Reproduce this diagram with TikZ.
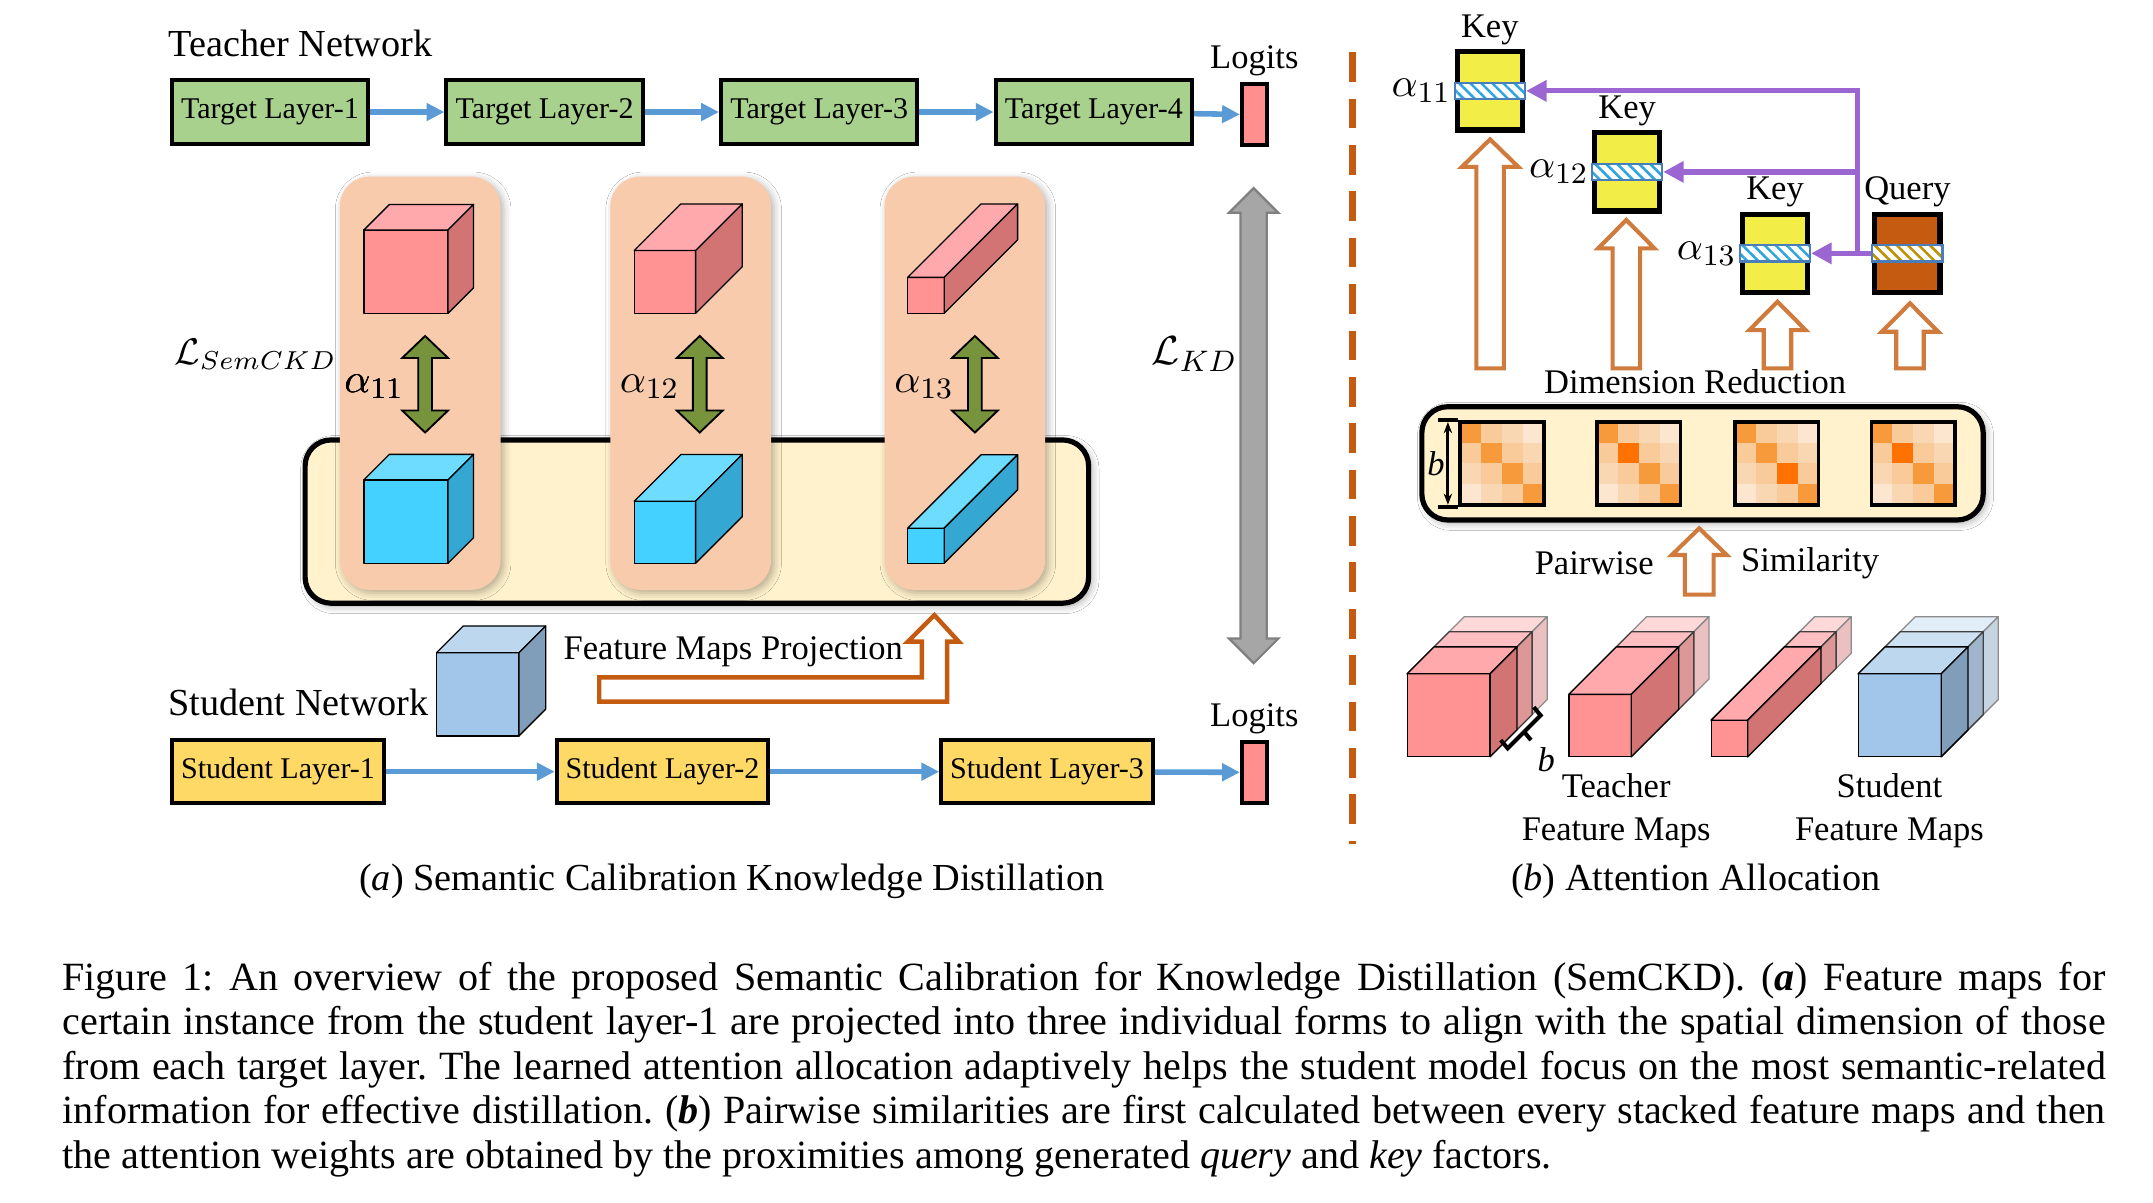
\documentclass[tikz,border=0pt]{standalone}
\usepackage{fontspec}
\setmainfont{Liberation Serif}
\usepackage{amsmath}
\usepackage{tikz}
\usetikzlibrary{positioning,arrows.meta,patterns.meta,shadows.blur}

\newcommand{\pxu}{0.37pt}
\newcommand{\capfont}{\fontsize{10.3}{12}\selectfont}
\newcommand{\labfont}{\fontsize{9.3}{11.4}\selectfont}
\newcommand{\boxfont}{\fontsize{8.1}{9.5}\selectfont}
\newcommand{\mathfont}{\fontsize{11}{13}\selectfont}

\definecolor{tgreen}{HTML}{A9D18E}
\definecolor{sgold}{HTML}{FFD966}
\definecolor{flowblue}{HTML}{5B9BD5}
\definecolor{logitpink}{HTML}{FF8F8F}
\definecolor{peach}{HTML}{F8CBAD}
\definecolor{softyellow}{HTML}{FFF2CC}
\definecolor{tcF}{HTML}{FF9393}
\definecolor{tcT}{HTML}{FFA9AD}
\definecolor{tcS}{HTML}{D37474}
\definecolor{scF}{HTML}{45D1FF}
\definecolor{scT}{HTML}{6EDCFF}
\definecolor{scS}{HTML}{35A7D3}
\definecolor{bcF}{HTML}{A2C6EA}
\definecolor{bcT}{HTML}{BDD7EE}
\definecolor{bcS}{HTML}{809DBA}
\definecolor{alphagreen}{HTML}{77933C}
\definecolor{kdgray}{HTML}{A6A6A6}
\definecolor{dimorange}{HTML}{C55A11}
\definecolor{hollowedge}{HTML}{D07A3C}
\definecolor{keyyellow}{HTML}{F2EE47}
\definecolor{attnpurple}{HTML}{9B66D2}
\definecolor{hatchblue}{HTML}{2FA5E0}
\definecolor{hatchgold}{HTML}{BF9000}
\definecolor{bandedge}{HTML}{4A7EBB}
\definecolor{heat0}{HTML}{FCE6CF}
\definecolor{heat1}{HTML}{FAD7B3}
\definecolor{heat2}{HTML}{F9CB9B}
\definecolor{heat4}{HTML}{F79A3B}
\definecolor{heat5}{HTML}{FF7100}

\tikzstyle{tlayer} = [draw=black, fill=tgreen, line width=1.1pt, rectangle,
    minimum width=143*\pxu, minimum height=46*\pxu, inner sep=0pt, font=\boxfont]
\tikzstyle{slayer} = [tlayer, fill=sgold, minimum width=154*\pxu]
\tikzstyle{logit} = [draw=black, fill=logitpink, line width=1.1pt,
    minimum width=18*\pxu, minimum height=44*\pxu, inner sep=0pt]
\tikzstyle{flow} = [draw=flowblue, line width=1.5pt, -{Triangle[length=4.8pt, width=4.6pt]}]
\tikzstyle{lab} = [font=\labfont, inner sep=1pt]
\tikzstyle{keybox} = [draw=black, fill=keyyellow, line width=1.4pt,
    minimum width=47.5*\pxu, minimum height=57*\pxu, inner sep=0pt]
\tikzstyle{querybox} = [keybox, fill=dimorange]
\tikzstyle{keyband} = [draw=bandedge, line width=0.6pt, preaction={fill=white},
    minimum width=51*\pxu, minimum height=12*\pxu, inner sep=0pt,
    pattern={Lines[angle=-45, distance=2.1pt, line width=0.7pt]}, pattern color=hatchblue]
\tikzstyle{queryband} = [keyband, pattern color=hatchgold]
\tikzstyle{attn} = [draw=attnpurple, line width=1.4pt, -{Triangle[length=5.5pt, width=5.5pt]}]
\tikzstyle{hollow} = [draw=hollowedge, line width=1.1pt, fill=white, line join=miter]
\tikzstyle{projarrow} = [draw=dimorange, line width=1.2pt, fill=white]
\tikzstyle{greenarr} = [draw=black, line width=0.5pt, fill=alphagreen]
\tikzstyle{grayarr} = [draw=black!50, line width=0.6pt, fill=kdgray]
\tikzstyle{softbox} = [draw=black, fill=softyellow, line width=1.4pt, rounded corners=7pt,
    blur shadow={shadow xshift=0.8pt, shadow yshift=-0.8pt, shadow blur radius=2pt, shadow opacity=35}]
\tikzstyle{peachcol} = [fill=peach, rounded corners=8pt,
    blur shadow={shadow xshift=0.8pt, shadow yshift=-0.8pt, shadow blur radius=2pt, shadow opacity=30}]
\tikzstyle{matframe} = [draw=black, line width=1pt, minimum size=60.8*\pxu, inner sep=0pt]
\tikzstyle{sepline} = [draw=dimorange, line width=2pt, dash pattern=on 8pt off 4.5pt]

\newcommand{\featcube}[7]{%
    \filldraw[draw=black!#7!white, line width=0.35pt, line join=round, fill=#6F!#7!white]
        ({#1},{#2}) rectangle ++({#3},{-(#4)});
    \filldraw[draw=black!#7!white, line width=0.35pt, line join=round, fill=#6T!#7!white]
        ({#1},{#2-(#4)}) -- ++({#5},{-(#5)}) -- ++({#3},0) -- ++({-(#5)},{#5}) -- cycle;
    \filldraw[draw=black!#7!white, line width=0.35pt, line join=round, fill=#6S!#7!white]
        ({#1+#3},{#2}) -- ++({#5},{-(#5)}) -- ++(0,{-(#4)}) -- ++({-(#5)},{#5}) -- cycle;}
\newcommand{\blockup}[7]{%
    \draw[#1] (#2-#5,#3) -- (#2-#5,#4+#7) -- (#2-#6,#4+#7) -- (#2,#4) -- (#2+#6,#4+#7)
        -- (#2+#5,#4+#7) -- (#2+#5,#3) -- cycle;}
\newcommand{\blockboth}[7]{%
    \draw[#1] (#2,#3) -- (#2+#6,#3+#7) -- (#2+#5,#3+#7) -- (#2+#5,#4-#7) -- (#2+#6,#4-#7)
        -- (#2,#4) -- (#2-#6,#4-#7) -- (#2-#5,#4-#7) -- (#2-#5,#3+#7) -- (#2-#6,#3+#7) -- cycle;}

\begin{document}
\begin{tikzpicture}[x=\pxu, y=-\pxu]
    \fill[white] (0,0) rectangle (1568,876.1);
    \useasboundingbox (0,0) rectangle (1568,876.1);

    \node[font=\capfont, anchor=base west, inner sep=0pt] (tnet) at (122.3,41.3) {Teacher Network};
    \node[tlayer] (tl1) at (196.6,81.6) {Target Layer-1};
    \node[tlayer] (tl2) at (396.6,81.6) {Target Layer-2};
    \node[tlayer] (tl3) at (596.6,81.6) {Target Layer-3};
    \node[tlayer] (tl4) at (796.6,81.6) {Target Layer-4};
    \node[logit] (tlog) at (913.5,83.5) {};
    \node[lab, above=0.5pt of tlog] (tlogtxt) {Logits};
    \draw[flow] (tl1) -- (tl2);
    \draw[flow] (tl2) -- (tl3);
    \draw[flow] (tl3) -- (tl4);
    \draw[flow] (tl4) -- (tlog);

    \draw[softbox] (222.2,320.4) rectangle (792.8,439.3);
    \foreach \cx in {247.5,444.5,644.2}
        \fill[peachcol] (\cx,128.6) rectangle (\cx+117,429.6);

    \featcube{265}{228.2}{61.3}{60.7}{18.6}{tc}{100}
    \featcube{461.9}{228.2}{44.7}{45.7}{34}{tc}{100}
    \featcube{661}{228.2}{26.6}{26.2}{53.5}{tc}{100}
    \featcube{265}{410.2}{61.3}{60.7}{18.6}{sc}{100}
    \featcube{461.9}{410.2}{44.7}{45.2}{34}{sc}{100}
    \featcube{661}{410.2}{26.6}{25.5}{53.5}{sc}{100}

    \foreach \ax in {309.6,509.6,710}
        \blockboth{greenarr}{\ax}{244.7}{315}{5}{16.7}{16}
    \node[font=\mathfont] (a11) at (272.4,281.5) {$\alpha_{11}$};
    \node[font=\mathfont] (a12) at (473,281.5) {$\alpha_{12}$};
    \node[font=\mathfont] (a13) at (673,281.5) {$\alpha_{13}$};
    \node[font=\fontsize{10.2}{12}\selectfont] (lsem) at (186,258) {$\mathcal{L}_{SemCKD}$};

    \blockboth{grayarr}{913}{137}{483}{9.5}{18}{18}
    \node[font=\mathfont] (lkd) at (870,258) {$\mathcal{L}_{KD}$};

    \featcube{317.9}{536}{60}{60.6}{19.5}{bc}{100}
    \draw[projarrow] (436.4,493.3) -- (671.4,493.3) -- (671.4,467.3) -- (661.1,467.3) -- (680.5,448)
        -- (698.2,467.3) -- (689.7,467.3) -- (689.7,511) -- (436.4,511) -- cycle;
    \node[lab] (projtxt) at (534,474.6) {Feature Maps Projection};

    \node[font=\capfont, anchor=base west, inner sep=0pt] (snet) at (122.3,521) {Student Network};
    \node[slayer] (sl1) at (202.5,562) {Student Layer-1};
    \node[slayer] (sl2) at (482.5,562) {Student Layer-2};
    \node[slayer] (sl3) at (762.5,562) {Student Layer-3};
    \node[logit] (slog) at (913.5,562.5) {};
    \node[lab, above=0.5pt of slog] (slogtxt) {Logits};
    \draw[flow] (sl1) -- (sl2);
    \draw[flow] (sl2) -- (sl3);
    \draw[flow] (sl3) -- (slog);

    \node[font=\capfont] (capa) at (533,642) {(\textit{a}) Semantic Calibration Knowledge Distillation};

    \draw[sepline] (985,38) -- (985,615);

    \node[keybox] (k1) at (1085,66.2) {};
    \node[keyband] (kb1) at (k1.center) {};
    \node[keybox] (k2) at (1185,125.2) {};
    \node[keyband] (kb2) at (k2.center) {};
    \node[keybox] (k3) at (1292.7,184.5) {};
    \node[keyband] (kb3) at (k3.center) {};
    \node[querybox] (q) at (1389.1,184.5) {};
    \node[queryband] (qb) at (q.center) {};
    \node[lab, above=0pt of k1] (key1) {Key};
    \node[lab, above=0pt of k2] (key2) {Key};
    \node[lab, above=0pt of k3] (key3) {Key};
    \node[lab, above=0pt of q] (qtxt) {Query};
    \node[font=\mathfont, anchor=east, inner sep=0.5pt] (ra11) at (kb1.west) {$\alpha_{11}$};
    \node[font=\mathfont, anchor=east, inner sep=0.5pt] (ra12) at (kb2.west) {$\alpha_{12}$};
    \node[font=\mathfont, anchor=east, inner sep=0.5pt] (ra13) at (kb3.west) {$\alpha_{13}$};
    \coordinate (qsplit) at (1352.5,184.5);
    \draw[attn] (qb.west) -- (kb3.east);
    \draw[attn] (qsplit) |- (kb2.east);
    \draw[attn] (qsplit) |- (kb1.east);

    \blockup{hollow}{1085.2}{268.3}{101.5}{10}{20.5}{20}
    \blockup{hollow}{1184.4}{268.3}{160.2}{10}{20.5}{20.7}
    \blockup{hollow}{1294.5}{268.3}{219.7}{10}{20.5}{20.7}
    \blockup{hollow}{1391}{268.3}{220.9}{10}{20.5}{20.7}
    \node[lab] (dimred) at (1234.5,278) {Dimension Reduction};

    \draw[softbox] (1035.5,296.2) rectangle (1444.3,378.7);
    \foreach \mx/\mat in {1063.4/{{4,2,1,0},{2,4,2,1},{1,2,4,2},{0,1,2,4}},
                          1163/{{4,2,1,0},{2,5,2,1},{1,2,4,2},{0,1,2,4}},
                          1263.5/{{4,2,1,0},{2,4,2,1},{1,2,5,2},{0,1,2,4}},
                          1363/{{4,2,1,0},{2,5,2,1},{1,2,4,2},{0,1,2,4}}}
        \foreach \row [count=\r from 0] in \mat
            \foreach \v [count=\c from 0] in \row
                \fill[heat\v] ({\mx+15.2*\c},{307.1+15.2*\r}) rectangle ++(15.2,15.2);
    \node[matframe] (m1) at (1093.8,337.5) {};
    \node[matframe] (m2) at (1193.4,337.5) {};
    \node[matframe] (m3) at (1293.9,337.5) {};
    \node[matframe] (m4) at (1393.4,337.5) {};
    \draw[line width=0.8pt, {Stealth[length=3pt]}-{Stealth[length=3pt]}]
        ([xshift=-2.8pt,yshift=-0.6pt]m1.north west) -- ([xshift=-2.8pt,yshift=0.6pt]m1.south west);
    \draw[line width=1pt] ([xshift=-5.6pt]m1.north west) -- (m1.north west);
    \draw[line width=1pt] ([xshift=-5.6pt]m1.south west) -- (m1.south west);
    \node[font=\labfont\itshape, inner sep=0pt] (bdim) at ([xshift=-6pt]m1.west) {b};

    \blockup{hollow}{1237.5}{433}{384.8}{10.5}{20}{19.4}
    \node[lab] (pairtxt) at (1161,410.3) {Pairwise};
    \node[lab] (simtxt) at (1318.3,410.3) {Similarity};

    \foreach \sx/\ss/\col in {1024.8/60.4/tc, 1142.6/45.4/tc, 1246.2/26.6/tc, 1353.3/60.4/bc} {
        \pgfmathsetmacro\dA{80-\ss}
        \pgfmathsetmacro\dB{91-\ss}
        \pgfmathsetmacro\dC{102-\ss}
        \featcube{\sx}{551.1}{\ss}{\ss}{\dC}{\col}{45}
        \featcube{\sx}{551.1}{\ss}{\ss}{\dB}{\col}{75}
        \featcube{\sx}{551.1}{\ss}{\ss}{\dA}{\col}{100}
    }
    \draw[line width=1.1pt] (1093,539) -- (1098,545) -- (1122,521) -- (1117,515);
    \draw[line width=1.1pt] (1110,533) -- (1115,539);
    \node[font=\labfont\itshape, inner sep=0pt] (bstack) at (1126,553) {b};

    \node[lab, align=center] (tfm) at (1177,590.5) {Teacher\\Feature Maps};
    \node[lab, align=center] (sfm) at (1376,590.5) {Student\\Feature Maps};
    \node[font=\capfont] (capb) at (1235,642) {(\textit{b}) Attention Allocation};

    \node[anchor=north west, text width=1488*\pxu, align=justify, inner sep=0pt,
        font=\fontsize{10.8}{12}\selectfont] (figcap) at (45,700) {\frenchspacing\tolerance=10000\hbadness=10000
        Figure 1: An overview of the proposed Semantic Calibration for Knowledge Distillation (SemCKD). (\textbf{\textit{a}}) Feature maps for\linebreak
        certain instance from the student layer-1 are projected into three individual forms to align with the spatial dimension of those\linebreak
        from each target layer. The learned attention allocation adaptively helps the student model focus on the most semantic-related\linebreak
        information for effective distillation. (\textbf{\textit{b}}) Pairwise similarities are first calculated between every stacked feature maps and then\linebreak
        the attention weights are obtained by the proximities among generated \textit{query} and \textit{key} factors.};
\end{tikzpicture}
\end{document}
